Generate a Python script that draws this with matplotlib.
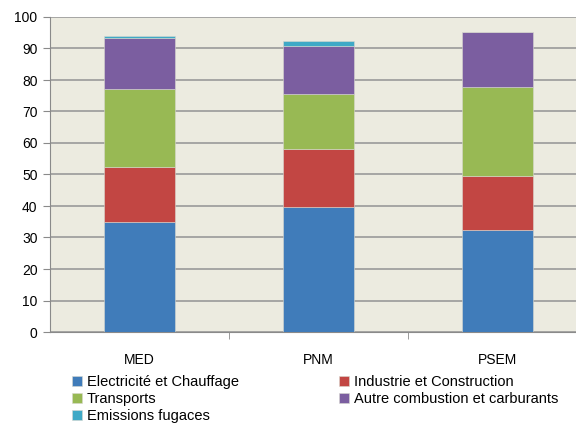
import numpy as np
import matplotlib.pyplot as plt

# données (lecture du graphique)
categories = ['MED', 'PNM', 'PSEM']
series_names = ['Electricité et Chauffage', 'Industrie et Construction', 'Transports',
                'Autre combustion et carburants', 'Emissions fugaces']
elec = [34.8, 39.6, 32.3]
industrie = [17.6, 18.4, 17.3]
transports = [24.6, 17.6, 28.2]
autre = [16.4, 15.3, 17.3]
fugaces = [0.7, 1.6, 0.0]

colors = ['#407CBA', '#C24643', '#98B954', '#7B5EA0', '#3FA9C6']
series = [elec, industrie, transports, autre, fugaces]

plt.rcParams['font.family'] = ['Liberation Sans', 'DejaVu Sans']

fig = plt.figure(figsize=(5.76, 4.23), dpi=100)
ax = fig.add_axes([50 / 576, 1 - 332 / 423, 537 / 576, 315 / 423])
ax.set_facecolor('#ECEBE0')

x = np.arange(len(categories))
bottom = np.zeros(len(categories))
bars = []
for vals, name, c in zip(series, series_names, colors):
    b = ax.bar(x, vals, 0.4, bottom=bottom, color=c, label=name,
               edgecolor='#D8D8D0', linewidth=0.4, zorder=3)
    bars.append(b)
    bottom += np.array(vals)

ax.set_xlim(-0.5, 2.5)
ax.set_ylim(0, 100)
ax.set_yticks(np.arange(0, 101, 10))
ax.grid(axis='y', color='#9A9A9A', linewidth=1.2, zorder=1)
ax.set_xticks(x)
ax.set_xticklabels(categories, fontsize=10)
ax.set_xticks([0.5, 1.5], minor=True)
ax.tick_params(axis='x', which='major', length=0, pad=15)
ax.tick_params(axis='x', which='minor', length=5, color='#8A8A8A', direction='out')
ax.tick_params(axis='y', labelsize=10, length=5, color='#8A8A8A', pad=4)
for s in ['top', 'right']:
    ax.spines[s].set_visible(False)
ax.spines['left'].set_color('#8A8A8A')
ax.spines['bottom'].set_color('#8A8A8A')

order = [0, 2, 4, 1, 3]
leg = fig.legend([bars[i] for i in order], [series_names[i] for i in order],
                 ncol=2, loc='upper left', bbox_to_anchor=(72 / 576, 1 - 375 / 423),
                 frameon=False, fontsize=10.5, handlelength=0.7, handleheight=0.7,
                 handletextpad=0.3, labelspacing=0.2, columnspacing=6.9,
                 borderpad=0, borderaxespad=0)

fig.savefig('out.png', dpi=100)
